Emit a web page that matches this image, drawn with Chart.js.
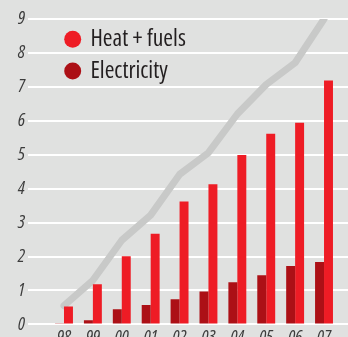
<!DOCTYPE html>
<html>
<head>
<meta charset="utf-8">
<script src="https://cdn.jsdelivr.net/npm/chart.js@4/dist/chart.umd.min.js"></script>
<style>
  html, body { margin: 0; padding: 0; background: #e0e1e0; overflow: hidden; }
  #wrap { width: 348px; height: 352px; }
</style>
</head>
<body>
<div id="wrap"><canvas id="c" width="348" height="352"></canvas></div>
<script>
const years = ['98', '99', '00', '01', '02', '03', '04', '05', '06', '07'];
const electricity = [0.02, 0.12, 0.45, 0.57, 0.74, 0.97, 1.24, 1.45, 1.72, 1.84];
const heatFuels = [0.53, 1.18, 2.01, 2.67, 3.62, 4.13, 4.99, 5.62, 5.94, 7.19];
const total = [0.55, 1.3, 2.48, 3.22, 4.42, 5.06, 6.2, 7.07, 7.71, 9.0];
const yTicks = [0, 1, 2, 3, 4, 5, 6, 7, 8, 9];

const pts = arr => arr.map((v, i) => ({ x: i, y: v }));

const legendShift = {
  id: 'legendShift',
  afterLayout(chart) {
    if (chart.legend) {
      chart.legend.left += 30.6;
      chart.legend.top += 19.5;
    }
  }
};

const FAMILY = '"Open Sans", "DejaVu Sans", sans-serif';

new Chart(document.getElementById('c'), {
  type: 'bar',
  data: {
    datasets: [
      { label: 'Electricity', data: pts(electricity), backgroundColor: '#ac1016', order: 1,
        categoryPercentage: 0.62, barPercentage: 1.0 },
      { label: 'Heat + fuels', data: pts(heatFuels), backgroundColor: '#ee1c25', order: 1,
        categoryPercentage: 0.62, barPercentage: 1.0 },
      { type: 'line', label: 'Total', data: pts(total), borderColor: '#c8c9c8', borderWidth: 7,
        pointRadius: 0, tension: 0, borderCapStyle: 'round', borderJoinStyle: 'round', order: 2 }
    ]
  },
  plugins: [legendShift],
  options: {
    responsive: false,
    animation: false,
    devicePixelRatio: 1,
    layout: { padding: { top: 19, right: 0, left: 0, bottom: 0 } },
    plugins: {
      tooltip: { enabled: false },
      legend: {
        position: 'chartArea',
        align: 'start',
        reverse: true,
        labels: {
          filter: item => item.text !== 'Total',
          usePointStyle: true,
          pointStyle: 'circle',
          boxWidth: 12,
          boxHeight: 12,
          padding: 8.1,
          color: '#231f20',
          font: { family: FAMILY, size: 23.5, weight: 'condensed' }
        }
      }
    },
    scales: {
      x: {
        type: 'linear',
        min: -1.246,
        max: 9.83,
        offset: false,
        grid: { display: false, drawTicks: false },
        border: { display: false },
        afterBuildTicks: s => { s.ticks = years.map((_, i) => ({ value: i })); },
        ticks: {
          autoSkip: false,
          maxRotation: 0,
          padding: 3,
          color: '#3c3c3c',
          font: { family: FAMILY, size: 18, style: 'italic', weight: 'condensed' },
          callback: v => (Number.isInteger(v) && v >= 0 && v < years.length) ? years[v] : ''
        }
      },
      y: {
        min: 0,
        max: 9,
        afterFit: s => { s.width = 28; },
        grid: { color: '#ffffff', lineWidth: 2, drawTicks: false },
        border: { display: false },
        afterBuildTicks: s => { s.ticks = yTicks.map(v => ({ value: v })); },
        ticks: {
          padding: 3,
          color: '#3c3c3c',
          font: { family: FAMILY, size: 18, style: 'italic', weight: 'condensed' }
        }
      }
    }
  }
});
</script>
</body>
</html>
